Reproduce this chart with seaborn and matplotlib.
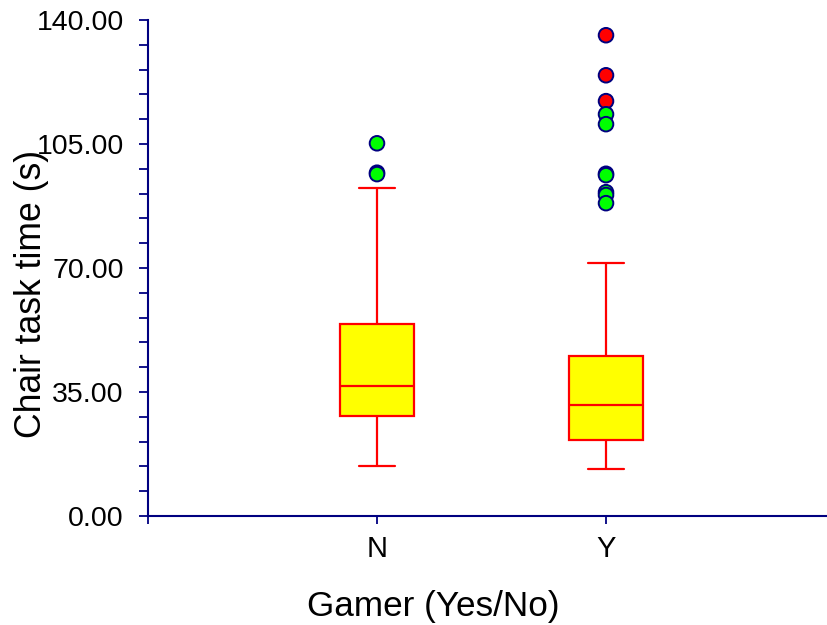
import numpy as np
import pandas as pd
import matplotlib
matplotlib.use("Agg")
import matplotlib.pyplot as plt
from matplotlib.ticker import MultipleLocator, FormatStrFormatter
import seaborn as sns

# ---- data ----
groups = ["N", "Y"]
whisker_low = [14.1, 13.2]
q1 = [28.3, 21.4]
median = [36.8, 31.3]
q3 = [54.1, 45.2]
whisker_high = [92.6, 71.4]

outlier_group = ["N", "N", "N",
                 "Y", "Y", "Y", "Y", "Y", "Y", "Y", "Y", "Y", "Y"]
outlier_value = [105.2, 96.9, 96.5,
                 135.7, 124.4, 117.1, 113.4, 110.6, 96.6, 96.2, 91.4, 90.6, 88.3]
outlier_kind = ["mild", "mild", "mild",
                "extreme", "extreme", "extreme", "mild", "mild", "mild", "mild", "mild", "mild", "mild"]

y_label = "Chair task time (s)"
x_label = "Gamer (Yes/No)"

# five-number summary per group -> rows for the box plot
rows = []
for g, a, b, c, d, e in zip(groups, whisker_low, q1, median, q3, whisker_high):
    for v in (a, b, c, d, e):
        rows.append({"group": g, "value": v})
box_df = pd.DataFrame(rows)
out_df = pd.DataFrame({"group": outlier_group, "value": outlier_value, "kind": outlier_kind})

sns.set_theme(style="white")
plt.rcParams["font.family"] = ["Liberation Sans", "DejaVu Sans"]

navy = "#000080"
fig = plt.figure(figsize=(8.27, 6.25), dpi=100)
ax = fig.add_axes([148 / 827, 1 - 516 / 625, 1 - 148 / 827, 496 / 625])

sns.boxplot(data=box_df, x="group", y="value", order=groups, ax=ax,
            width=0.32, whis=(0, 100), showfliers=False,
            color="#FFFF00", linecolor="#FF0000", linewidth=1.6,
            boxprops=dict(facecolor="#FFFF00", edgecolor="#FF0000"),
            medianprops=dict(color="#FF0000"),
            whiskerprops=dict(color="#FF0000"),
            capprops=dict(color="#FF0000"))

sns.stripplot(data=out_df, x="group", y="value", order=groups, hue="kind",
              palette={"mild": "#00FF00", "extreme": "#FF0000"},
              jitter=False, dodge=False, size=10.5, linewidth=1.4,
              edgecolor=navy, legend=False, ax=ax, zorder=5)

ax.set_xlim(-1.0, 1.965)
ax.set_ylim(0, 140)
ax.yaxis.set_major_locator(MultipleLocator(35))
ax.yaxis.set_minor_locator(MultipleLocator(7))
ax.yaxis.set_major_formatter(FormatStrFormatter("%.2f"))
ax.set_xticks([-1.0, 0, 1])
ax.set_xticklabels(["", "N", "Y"])

for side in ("top", "right"):
    ax.spines[side].set_visible(False)
for side in ("left", "bottom"):
    ax.spines[side].set_color(navy)
    ax.spines[side].set_linewidth(1.5)

ax.tick_params(axis="y", which="both", direction="out", length=6.5, width=1.3,
               color=navy, labelsize=20.5, labelcolor="black", pad=11, left=True)
ax.tick_params(axis="x", which="major", direction="out", length=6.0, width=1.3,
               color=navy, labelsize=21, labelcolor="black", pad=8, bottom=True)

ax.set_ylabel(y_label, fontsize=25.6, color="black")
ax.set_xlabel(x_label, fontsize=25.3, color="black")
ax.yaxis.set_label_coords(-0.146, 0.448)
ax.xaxis.set_label_coords(0.42, -0.15)
ax.grid(False)

fig.savefig("out.png", dpi=100)
